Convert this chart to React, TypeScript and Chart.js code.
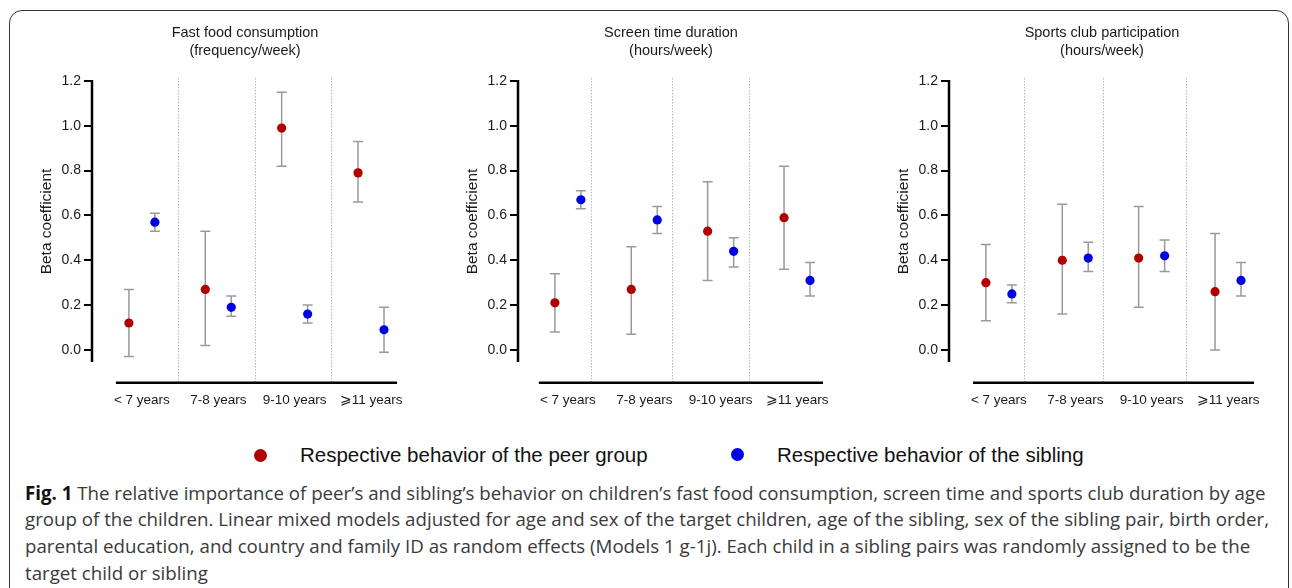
import React, { useEffect, useRef } from "react";
import { Chart, registerables } from "chart.js";

Chart.register(...registerables);
Chart.defaults.font.family = "'Liberation Sans', Arial, Helvetica, sans-serif";

// ---------- data ----------
const ageGroups = ["< 7 years", "7-8 years", "9-10 years", "\u2A7E11 years"];
const yTickValues = [0, 0.2, 0.4, 0.6, 0.8, 1.0, 1.2];

const fastFoodPeer = [0.12, 0.27, 0.99, 0.79];
const fastFoodPeerLow = [-0.03, 0.02, 0.82, 0.66];
const fastFoodPeerHigh = [0.27, 0.53, 1.15, 0.93];
const fastFoodSibling = [0.57, 0.19, 0.16, 0.09];
const fastFoodSiblingLow = [0.53, 0.15, 0.12, -0.01];
const fastFoodSiblingHigh = [0.61, 0.24, 0.2, 0.19];

const screenPeer = [0.21, 0.27, 0.53, 0.59];
const screenPeerLow = [0.08, 0.07, 0.31, 0.36];
const screenPeerHigh = [0.34, 0.46, 0.75, 0.82];
const screenSibling = [0.67, 0.58, 0.44, 0.31];
const screenSiblingLow = [0.63, 0.52, 0.37, 0.24];
const screenSiblingHigh = [0.71, 0.64, 0.5, 0.39];

const sportsPeer = [0.3, 0.4, 0.41, 0.26];
const sportsPeerLow = [0.13, 0.16, 0.19, 0.0];
const sportsPeerHigh = [0.47, 0.65, 0.64, 0.52];
const sportsSibling = [0.25, 0.41, 0.42, 0.31];
const sportsSiblingLow = [0.21, 0.35, 0.35, 0.24];
const sportsSiblingHigh = [0.29, 0.48, 0.49, 0.39];

const peerLabel = "Respective behavior of the peer group";
const siblingLabel = "Respective behavior of the sibling";

const captionLines = [
  "The relative importance of peer\u2019s and sibling\u2019s behavior on children\u2019s fast food consumption, screen time and sports club duration by age",
  "group of the children. Linear mixed models adjusted for age and sex of the target children, age of the sibling, sex of the sibling pair, birth order,",
  "parental education, and country and family ID as random effects (Models 1 g-1j). Each child in a sibling pairs was randomly assigned to be the",
  "target child or sibling",
];

// ---------- style ----------
const PEER_COLOR = "#b00000";
const SIBLING_COLOR = "#0000e6";
const BAR_COLOR = "#9a9a9a";
const OFFSET = 0.17;

type Panel = {
  title: string[];
  left: number;
  separators: number[];
  axisStart: number;
  peer: number[];
  peerLow: number[];
  peerHigh: number[];
  sib: number[];
  sibLow: number[];
  sibHigh: number[];
};

const panels: Panel[] = [
  {
    title: ["Fast food consumption", "(frequency/week)"],
    left: 0,
    separators: [0.47, 1.48, 2.48],
    axisStart: -0.34,
    peer: fastFoodPeer,
    peerLow: fastFoodPeerLow,
    peerHigh: fastFoodPeerHigh,
    sib: fastFoodSibling,
    sibLow: fastFoodSiblingLow,
    sibHigh: fastFoodSiblingHigh,
  },
  {
    title: ["Screen time duration", "(hours/week)"],
    left: 426,
    separators: [0.3, 1.36, 2.37],
    axisStart: -0.38,
    peer: screenPeer,
    peerLow: screenPeerLow,
    peerHigh: screenPeerHigh,
    sib: screenSibling,
    sibLow: screenSiblingLow,
    sibHigh: screenSiblingHigh,
  },
  {
    title: ["Sports club participation", "(hours/week)"],
    left: 857,
    separators: [0.33, 1.36, 2.45],
    axisStart: -0.34,
    peer: sportsPeer,
    peerLow: sportsPeerLow,
    peerHigh: sportsPeerHigh,
    sib: sportsSibling,
    sibLow: sportsSiblingLow,
    sibHigh: sportsSiblingHigh,
  },
];

const AXIS_LEVEL = -0.147;

const decorPlugin = {
  id: "panelDecor",
  beforeDatasetsDraw(chart: any, _args: any, opts: any) {
    const { ctx, chartArea } = chart;
    const x = chart.scales.x;
    const y = chart.scales.y;
    const axisY = y.getPixelForValue(AXIS_LEVEL);
    ctx.save();
    // dotted separators
    ctx.strokeStyle = "#b8b8b8";
    ctx.lineWidth = 1;
    ctx.setLineDash([1.5, 1.5]);
    (opts.separators || []).forEach((s: number) => {
      const px = Math.round(x.getPixelForValue(s)) + 0.5;
      ctx.beginPath();
      ctx.moveTo(px, chartArea.top - 3);
      ctx.lineTo(px, axisY);
      ctx.stroke();
    });
    ctx.setLineDash([]);
    // error bars
    ctx.strokeStyle = BAR_COLOR;
    ctx.lineWidth = 1.5;
    chart.data.datasets.forEach((ds: any, di: number) => {
      const meta = chart.getDatasetMeta(di);
      ds.data.forEach((d: any, j: number) => {
        const px = meta.data[j].x;
        const t = y.getPixelForValue(d.high);
        const b = y.getPixelForValue(d.low);
        ctx.beginPath();
        ctx.moveTo(px, t);
        ctx.lineTo(px, b);
        ctx.moveTo(px - 5, t);
        ctx.lineTo(px + 5, t);
        ctx.moveTo(px - 5, b);
        ctx.lineTo(px + 5, b);
        ctx.stroke();
      });
    });
    // axis lines
    ctx.strokeStyle = "#000";
    ctx.lineWidth = 2.5;
    ctx.beginPath();
    ctx.moveTo(chartArea.left - 1, chartArea.top - 1);
    ctx.lineTo(chartArea.left - 1, chartArea.bottom);
    ctx.stroke();
    ctx.beginPath();
    ctx.moveTo(x.getPixelForValue(opts.axisStart), axisY);
    ctx.lineTo(chartArea.right, axisY);
    ctx.stroke();
    ctx.restore();
  },
};

function buildData(p: Panel) {
  return {
    datasets: [
      {
        label: peerLabel,
        data: p.peer.map((v, i) => ({ x: i - OFFSET, y: v, low: p.peerLow[i], high: p.peerHigh[i] })),
        backgroundColor: PEER_COLOR,
        borderColor: PEER_COLOR,
      },
      {
        label: siblingLabel,
        data: p.sib.map((v, i) => ({ x: i + OFFSET, y: v, low: p.sibLow[i], high: p.sibHigh[i] })),
        backgroundColor: SIBLING_COLOR,
        borderColor: SIBLING_COLOR,
      },
    ],
  };
}

function PanelChart({ panel }: { panel: Panel }) {
  const ref = useRef<HTMLCanvasElement | null>(null);
  useEffect(() => {
    if (!ref.current) return;
    const chart = new Chart(ref.current, {
      type: "scatter",
      data: buildData(panel) as any,
      plugins: [decorPlugin],
      options: {
        animation: false,
        responsive: false,
        layout: { padding: { left: 0, right: 23, top: 0, bottom: 0 } },
        elements: { point: { radius: 4.6, borderWidth: 0, hoverRadius: 4.6 } },
        plugins: {
          legend: { display: false },
          tooltip: { enabled: false },
          title: {
            display: true,
            fullSize: false,
            text: panel.title,
            color: "#1a1a1a",
            font: { size: 14.5, weight: "normal", lineHeight: 18 / 14.5 },
            padding: { top: 24, bottom: 21 },
          },
          panelDecor: { separators: panel.separators, axisStart: panel.axisStart },
        } as any,
        scales: {
          x: {
            type: "linear",
            min: -0.64,
            max: 3.34,
            afterBuildTicks: (s: any) => {
              s.ticks = ageGroups.map((_, i) => ({ value: i }));
            },
            afterFit: (s: any) => {
              s.height = 58;
              s.paddingLeft = 0;
              s.paddingRight = 0;
            },
            grid: { display: false, drawTicks: false },
            border: { display: false },
            ticks: {
              autoSkip: false,
              maxRotation: 0,
              padding: 30,
              color: "#1a1a1a",
              font: { size: 13.5 },
              callback: (_v: any, i: number) => ageGroups[i],
            },
          },
          y: {
            type: "linear",
            min: -0.054,
            max: 1.2,
            afterBuildTicks: (s: any) => {
              s.ticks = yTickValues.map((v) => ({ value: v }));
            },
            afterFit: (s: any) => {
              s.width = 93;
            },
            grid: {
              display: true,
              drawOnChartArea: false,
              drawTicks: true,
              tickLength: 9,
              color: "#000",
              lineWidth: 2,
            },
            border: { display: false },
            ticks: {
              padding: 3,
              color: "#1a1a1a",
              font: { size: 14 },
              callback: (v: any) => Number(v).toFixed(1),
            },
            title: {
              display: true,
              text: "Beta coefficient",
              color: "#1a1a1a",
              font: { size: 15.5 },
              padding: { top: 37, bottom: 0 },
            },
          },
        },
      } as any,
    });
    return () => chart.destroy();
  }, [panel]);
  return (
    <canvas
      ref={ref}
      width={420}
      height={420}
      style={{ position: "absolute", left: panel.left, top: 0, width: 420, height: 420 }}
    />
  );
}

export default function App() {
  return (
    <div
      style={{
        position: "fixed",
        left: 0,
        top: 0,
        width: 1292,
        height: 588,
        overflow: "hidden",
        background: "#fff",
      }}
    >
      <div
        style={{
          position: "absolute",
          left: 9,
          top: 10,
          width: 1280,
          height: 700,
          boxSizing: "border-box",
          border: "1.5px solid #333",
          borderRadius: 13,
        }}
      />
      {panels.map((p, i) => (
        <PanelChart key={i} panel={p} />
      ))}
      {/* legend */}
      <div
        style={{
          position: "absolute",
          left: 0,
          top: 441,
          height: 28,
          width: 1292,
          fontFamily: "'Liberation Sans', Arial, sans-serif",
          fontSize: 20.5,
          color: "#111",
        }}
      >
        <div style={{ position: "absolute", left: 253.5, top: 7.5, width: 13, height: 13, borderRadius: "50%", background: PEER_COLOR }} />
        <div style={{ position: "absolute", left: 300, top: 0, lineHeight: "28px", whiteSpace: "nowrap" }}>{peerLabel}</div>
        <div style={{ position: "absolute", left: 730.5, top: 6.5, width: 13, height: 13, borderRadius: "50%", background: SIBLING_COLOR }} />
        <div style={{ position: "absolute", left: 777, top: 0, lineHeight: "28px", whiteSpace: "nowrap" }}>{siblingLabel}</div>
      </div>
      {/* caption */}
      <div
        style={{
          position: "absolute",
          left: 25,
          top: 479.6,
          fontFamily: "'Open Sans', sans-serif",
          fontSize: 18.7,
          lineHeight: "26.7px",
          color: "#3a3a3a",
          whiteSpace: "nowrap",
        }}
      >
        {captionLines.map((l, i) => (
          <div key={i}>
            {i === 0 ? <b style={{ color: "#111" }}>Fig. 1 </b> : null}
            {l}
          </div>
        ))}
      </div>
    </div>
  );
}
